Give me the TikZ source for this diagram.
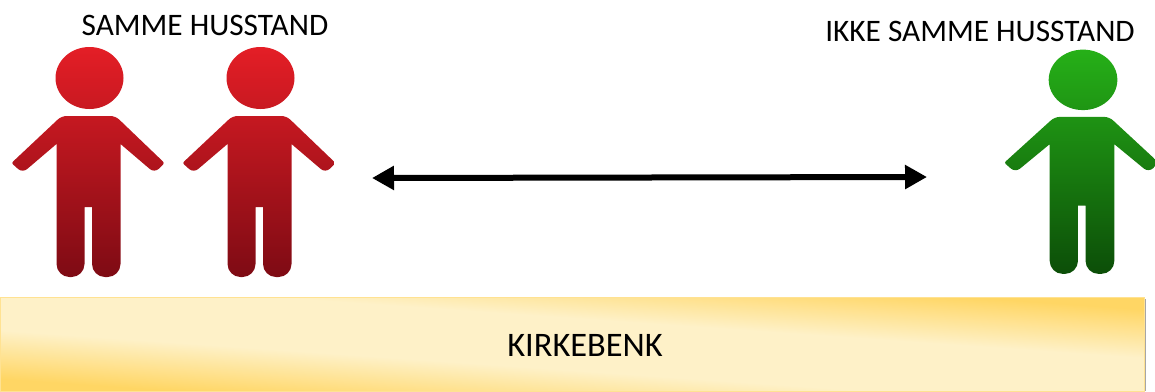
\documentclass[tikz,border=0pt]{standalone}
\usepackage{fontspec}
\setmainfont{Carlito}
\usetikzlibrary{arrows.meta}
\definecolor{redtop}{RGB}{228,30,38}
\definecolor{redbottom}{RGB}{126,11,20}
\definecolor{greentop}{RGB}{38,176,24}
\definecolor{greenbottom}{RGB}{12,78,8}
\definecolor{benchgold}{RGB}{255,214,100}
\definecolor{benchpale}{RGB}{254,241,200}
\pgfdeclareverticalshading{benchshade}{100bp}{color(0bp)=(benchgold); color(27bp)=(benchgold); color(42bp)=(benchpale); color(58bp)=(benchpale); color(73bp)=(benchgold); color(100bp)=(benchgold)}
\tikzset{
	label text/.style={font=\fontsize{31.3}{36}\selectfont,text=black,inner sep=0pt},
	bench/.style={shading=benchshade,shading angle=-4,draw=benchgold!70!white,line width=0.6pt},
	double arrow/.style={{Triangle[length=22pt,width=23pt]}-{Triangle[length=22pt,width=23pt]},line width=6pt},
	pics/person/.style={code={
		\shade[top color=#1top,bottom color=#1bottom]
		(1,-34) ellipse (34 and 31)
		[rounded corners=5pt] (-27,4) -- (27,4) [rounded corners=2pt] -- (76,51) [rounded corners=6pt] -- (66,61) [sharp corners] -- (32,32)
		[rounded corners=13pt] -- (32,165) -- (3.5,165) [sharp corners] -- (3.5,95) -- (-4,95)
		[rounded corners=13pt] -- (-4,165) -- (-32,165) [sharp corners] -- (-32,32)
		[rounded corners=6pt] -- (-66,61) [rounded corners=2pt] -- (-77,51) [rounded corners=5pt] -- cycle;
	}},
}
\begin{document}
\begin{tikzpicture}[x=1pt,y=-1pt]
	\useasboundingbox (0,0) rectangle (1155,391);

	\draw (88.5,112) pic (redfirst) {person=red};
	\draw (259.5,112) pic (redsecond) {person=red};
	\draw (1082,113) pic[yscale=0.975,xscale=1.01] (greenone) {person=green};

	\draw (205,25) node[label text] (same) {SAMME HUSSTAND};
	\draw (980,31) node[label text] (notsame) {IKKE SAMME HUSSTAND};

	\fill[black!35] (1144,299) rectangle (1146,391);
	\shade[bench] (0,297) rectangle (1144,391);
	\draw (585,345) node[label text,font=\fontsize{34.4}{40}\selectfont] (kirkebenk) {KIRKEBENK};

	\draw (372,178) coordinate (arrowleft);
	\draw (927,177) coordinate (arrowright);
	\path[draw,double arrow] (arrowleft) -- (arrowright);
\end{tikzpicture}
\end{document}
